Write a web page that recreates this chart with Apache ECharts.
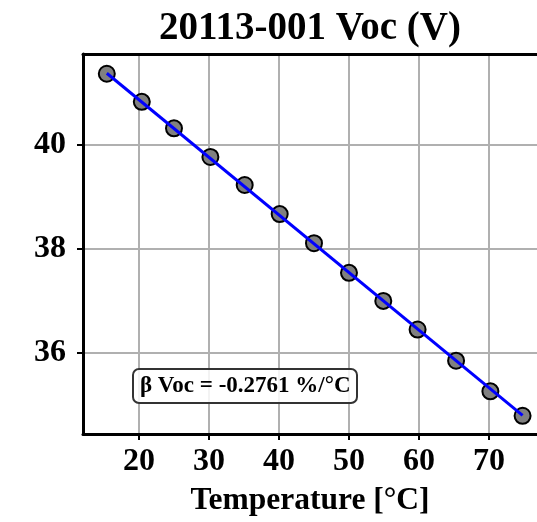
<!DOCTYPE html>
<html>
<head>
<meta charset="utf-8">
<script src="https://cdn.jsdelivr.net/npm/echarts@6/dist/echarts.min.js"></script>
<style>
html,body{margin:0;padding:0;background:#fff;}
#chart{width:537px;height:522px;}
</style>
</head>
<body>
<div id="chart"></div>
<script>
// Data
const temps = [15.4, 20.4, 25.0, 30.2, 35.1, 40.1, 45.0, 50.0, 54.9, 59.8, 65.3, 70.2, 74.8];
const voc = [41.37, 40.83, 40.32, 39.77, 39.23, 38.67, 38.11, 37.54, 37.00, 36.45, 35.85, 35.26, 34.79];
const fitTemps = [15.4, 74.8];
const fitVoc = [41.38, 34.80];
const xTicks = [20, 30, 40, 50, 60, 70];
const yTicks = [36, 38, 40];
const titleText = '20113-001 Voc (V)';
const xAxisName = 'Temperature [°C]';
const annotationText = 'β Voc = -0.2761 %/°C';

const FONT = '"Liberation Serif", "DejaVu Serif", serif';
const X_MIN = 12, X_MAX = 76.86, Y_MIN = 34.44, Y_MAX = 41.75;
const chart = echarts.init(document.getElementById('chart'), null, {renderer: 'canvas'});
chart.setOption({
  animation: false,
  backgroundColor: '#ffffff',
  title: [
    {
      text: titleText,
      left: 305, top: 4, textAlign: 'center',
      textStyle: {fontFamily: FONT, fontWeight: 'bold', fontSize: 39, color: '#000'}
    },
    {
      text: annotationText,
      left: 133, top: 369,
      padding: [5, 7, 5, 7],
      backgroundColor: 'rgba(255,255,255,0.85)',
      borderColor: '#333',
      borderWidth: 2,
      borderRadius: 6,
      textStyle: {fontFamily: FONT, fontWeight: 'bold', fontSize: 23, lineHeight: 24, color: '#000'}
    }
  ],
  grid: {left: 83, top: 54, right: 0, height: 384, show: false},
  xAxis: [
    {
      type: 'value', min: X_MIN, max: X_MAX, position: 'bottom',
      name: xAxisName, nameLocation: 'middle', nameGap: 51,
      nameTextStyle: {fontFamily: FONT, fontWeight: 'bold', fontSize: 31.5, color: '#000'},
      axisLine: {show: true, lineStyle: {color: '#000', width: 3}},
      axisTick: {show: true, inside: false, length: 6, lineStyle: {color: '#000', width: 2}, customValues: xTicks},
      axisLabel: {fontFamily: FONT, fontWeight: 'bold', fontSize: 32, color: '#000', margin: 12, customValues: xTicks},
      splitLine: {show: true, lineStyle: {color: '#b0b0b0', width: 2}}
    },
    {
      type: 'value', min: X_MIN, max: X_MAX, position: 'top',
      axisLine: {show: true, lineStyle: {color: '#000', width: 3}},
      axisTick: {show: false}, axisLabel: {show: false}, splitLine: {show: false}
    }
  ],
  yAxis: {
    type: 'value', min: Y_MIN, max: Y_MAX,
    axisLine: {show: true, lineStyle: {color: '#000', width: 3}},
    axisTick: {show: true, inside: false, length: 6, lineStyle: {color: '#000', width: 2}, customValues: yTicks},
    axisLabel: {fontFamily: FONT, fontWeight: 'bold', fontSize: 32, color: '#000', margin: 17, customValues: yTicks},
    splitLine: {show: true, lineStyle: {color: '#b0b0b0', width: 2}}
  },
  series: [
    {
      type: 'scatter',
      data: temps.map((t, i) => [t, voc[i]]),
      symbol: 'circle', symbolSize: 16,
      itemStyle: {color: '#808080', borderColor: '#000', borderWidth: 2, opacity: 1},
      z: 3
    },
    {
      type: 'line',
      data: fitTemps.map((t, i) => [t, fitVoc[i]]),
      showSymbol: false, symbol: 'none',
      lineStyle: {color: '#0000ff', width: 3},
      z: 4
    }
  ]
});
</script>
</body>
</html>
